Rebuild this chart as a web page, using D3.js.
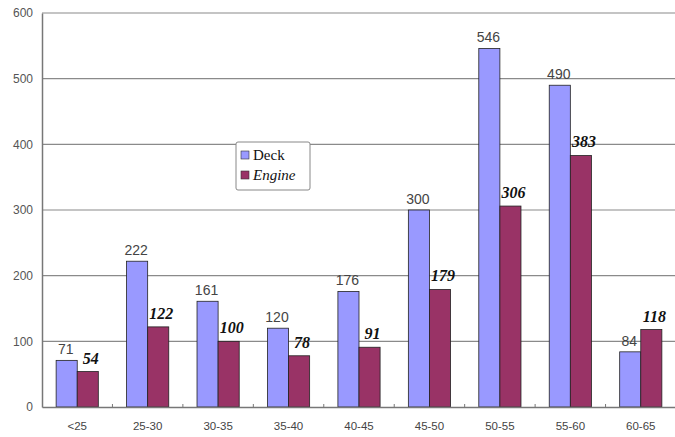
<!DOCTYPE html>
<html><head><meta charset="utf-8">
<script src="https://cdn.jsdelivr.net/npm/d3@7"></script>
<style>body{margin:0;background:#fff}svg{display:block}</style>
</head><body>
<script>
const categories = ["<25","25-30","30-35","35-40","40-45","45-50","50-55","55-60","60-65"];
const deck = [71,222,161,120,176,300,546,490,84];
const engine = [54,122,100,78,91,179,306,383,118];
const yTicks = [0,100,200,300,400,500,600];
const seriesNames = ["Deck","Engine"];

const W=675,H=437;
const m={left:42,right:0,top:13,bottom:30};
const svg=d3.select("body").append("svg").attr("width",W).attr("height",H);
const x=d3.scaleBand().domain(categories).range([m.left,676]).paddingInner(0).paddingOuter(0);
const xs=d3.scaleBand().domain(seriesNames).range([0,x.bandwidth()]).paddingInner(0).paddingOuter(0.67);
const y=d3.scaleLinear().domain([0,600]).range([407,13]);
const sansFont="Tahoma,'Liberation Sans',Arial,sans-serif";
const serifFont="'Liberation Serif','Times New Roman',serif";

// gridlines
svg.append("g").selectAll("line").data(yTicks.slice(1)).join("line")
 .attr("x1",m.left).attr("x2",W).attr("y1",d=>y(d)).attr("y2",d=>y(d))
 .attr("stroke","#8a8a8a").attr("stroke-width",1.2);

// y axis
const ya=svg.append("g").attr("transform",`translate(${m.left},0)`)
 .call(d3.axisLeft(y).tickValues(yTicks).tickSize(0).tickPadding(9));
ya.select(".domain").attr("stroke","#777").attr("stroke-width",1.5);
ya.selectAll("text").attr("font-family",sansFont).attr("font-size",12).attr("fill","#555");

const data=categories.map((c,i)=>({c,vals:[{s:"Deck",v:deck[i]},{s:"Engine",v:engine[i]}]}));
const colors={Deck:"#9999ff",Engine:"#993366"};
const g=svg.append("g").selectAll("g").data(data).join("g").attr("transform",d=>`translate(${x(d.c)},0)`);
g.selectAll("rect").data(d=>d.vals).join("rect")
 .attr("x",d=>xs(d.s)).attr("width",xs.bandwidth()).attr("y",d=>y(d.v)).attr("height",d=>y(0)-y(d.v))
 .attr("fill",d=>colors[d.s]).attr("stroke","#222").attr("stroke-width",0.8);
g.selectAll("text").data(d=>d.vals).join("text")
 .attr("x",d=>xs(d.s)+xs.bandwidth()/2+(d.s==="Engine"?3:-1)).attr("y",d=>y(d.v)-(d.s==="Engine"?8:6))
 .attr("text-anchor","middle")
 .attr("font-family",d=>d.s==="Engine"?serifFont:sansFont)
 .attr("font-style",d=>d.s==="Engine"?"italic":"normal")
 .attr("font-weight",d=>d.s==="Engine"?"bold":"normal")
 .attr("font-size",d=>d.s==="Engine"?16:14)
 .attr("fill",d=>d.s==="Engine"?"#111":"#444")
 .text(d=>d.v);

// x axis
const xa=svg.append("g").attr("transform",`translate(0,${y(0)})`)
 .call(d3.axisBottom(x).tickSize(0).tickPadding(15));
xa.select(".domain").attr("stroke","#777").attr("stroke-width",1.5);
xa.selectAll("text").attr("font-family",sansFont).attr("font-size",11.5).attr("fill","#444");
svg.append("g").selectAll("line").data(categories.slice(1)).join("line")
 .attr("x1",d=>x(d)).attr("x2",d=>x(d)).attr("y1",y(0)).attr("y2",y(0)-3).attr("stroke","#777");

// legend
const lg=svg.append("g").attr("transform","translate(236,142)");
lg.append("rect").attr("width",74).attr("height",48).attr("fill","#fff").attr("stroke","#888").attr("rx",2);
seriesNames.forEach((s,i)=>{
 lg.append("rect").attr("x",5).attr("y",9+i*20).attr("width",8).attr("height",8).attr("fill",colors[s]).attr("stroke","#333").attr("stroke-width",0.6);
 lg.append("text").attr("x",17).attr("y",18+i*20).text(s)
  .attr("font-family",serifFont).attr("font-size",15)
  .attr("font-style",s==="Engine"?"italic":"normal").attr("fill","#111");
});
</script>
</body></html>
